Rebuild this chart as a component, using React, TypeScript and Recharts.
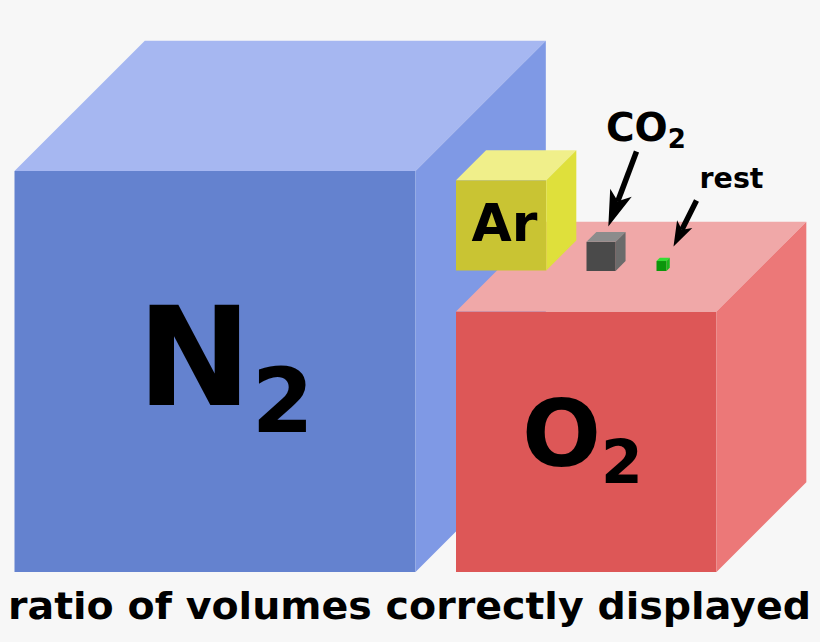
import { ScatterChart, Scatter, XAxis, YAxis } from 'recharts'

// gas formulas (base + subscript) and share of the air by volume, in percent (as drawn)
const gases = ['N', 'O', 'Ar', 'CO', 'rest']
const subscripts = ['2', '2', '', '2', '']
const volumePercent = [78.08, 21.4, 0.89, 0.03, 0.0012]

const caption = 'ratio of volumes correctly displayed'

const W = 820
const H = 642
const FONT = '"DejaVu Sans", Verdana, sans-serif'

// layout: front bottom-left corner of every cube (chart units, y measured up from the bottom)
const anchorX = [14.5, 456, 456, 586.5, 656.5]
const anchorY = [70, 70, 371.5, 371, 371]
const depthRatio = [0.325, 0.345, 0.333, 0.34, 0.33]

// edge length of the biggest cube; the others follow from the cube root of the volume
const N2_SIDE = 401
const UNIT = N2_SIDE / Math.cbrt(volumePercent[0])

const palette = [
  { front: '#6482cf', top: '#a6b7f1', side: '#7f99e5' },
  { front: '#dd5757', top: '#f0a8a8', side: '#ec7878' },
  { front: '#c9c433', top: '#f0ef8a', side: '#dfe03b' },
  { front: '#4a4a4a', top: '#8c8c8c', side: '#6b6b6b' },
  { front: '#0b960b', top: '#33dd33', side: '#1cb81c' },
]

// label placement relative to the cube anchor, in px
const labelStyle = [
  { size: 137, subSize: 89, dx: 122.5, dy: -167, subDy: 27 },
  { size: 93, subSize: 60, dx: 66, dy: -106, subDy: 17 },
  { size: 52, subSize: 0, dx: 15.5, dy: -29.5, subDy: 0 },
  { size: 39, subSize: 26, dx: 19.5, dy: -130, subDy: 7 },
  { size: 28.5, subSize: 0, dx: 43, dy: -82.7, subDy: 0 },
]

// arrows from the small labels down to their cubes: [startX, startY, tipX, tipY, headLen, headHalf]
const arrows: (number[] | null)[] = [
  null,
  null,
  null,
  [50, -119.5, 21.8, -44.5, 36, 11.5],
  [40, -70.5, 17, -24.5, 25, 8.5],
]

const data = gases.map((g, i) => ({
  name: g + subscripts[i],
  x: anchorX[i],
  y: anchorY[i],
  side: UNIT * Math.cbrt(volumePercent[i]),
  idx: i,
}))

function Arrow({ x0, y0, x1, y1, len, half }: any) {
  const dx = x1 - x0
  const dy = y1 - y0
  const l = Math.hypot(dx, dy)
  const ux = dx / l
  const uy = dy / l
  const bx = x1 - ux * len
  const by = y1 - uy * len
  const nx = bx + ux * len * 0.25
  const ny = by + uy * len * 0.25
  const w1 = [bx - uy * half, by + ux * half]
  const w2 = [bx + uy * half, by - ux * half]
  return (
    <g>
      <line x1={x0} y1={y0} x2={nx} y2={ny} stroke="#000" strokeWidth={5.5} />
      <polygon points={`${x1},${y1} ${w1[0]},${w1[1]} ${nx},${ny} ${w2[0]},${w2[1]}`} fill="#000" />
    </g>
  )
}

function Cube(props: any) {
  const { cx, cy, payload } = props
  const i = payload.idx
  const s = payload.side
  const d = s * depthRatio[i]
  const c = palette[i]
  const lab = labelStyle[i]
  const arr = arrows[i]
  const top = `${cx},${cy - s} ${cx + d},${cy - s - d} ${cx + s + d},${cy - s - d} ${cx + s},${cy - s}`
  const side = `${cx + s},${cy - s} ${cx + s + d},${cy - s - d} ${cx + s + d},${cy - d} ${cx + s},${cy}`
  return (
    <g>
      <rect x={cx} y={cy - s} width={s} height={s} fill={c.front} />
      <polygon points={top} fill={c.top} />
      <polygon points={side} fill={c.side} />
      <text x={cx + lab.dx} y={cy + lab.dy} fontFamily={FONT} fontWeight="bold" fontSize={lab.size} fill="#000">
        {gases[i]}
        {subscripts[i] && (
          <tspan dy={lab.subDy} fontSize={lab.subSize}>
            {subscripts[i]}
          </tspan>
        )}
      </text>
      {arr && (
        <Arrow x0={cx + arr[0]} y0={cy + arr[1]} x1={cx + arr[2]} y1={cy + arr[3]} len={arr[4]} half={arr[5]} />
      )}
    </g>
  )
}

export default function App() {
  return (
    <div style={{ position: 'absolute', left: 0, top: 0, width: W, height: H, background: '#f7f7f7' }}>
      <ScatterChart width={W} height={H} margin={{ top: 0, right: 0, bottom: 0, left: 0 }}>
        <XAxis type="number" dataKey="x" domain={[0, W]} hide />
        <YAxis type="number" dataKey="y" domain={[0, H]} hide />
        <Scatter data={data} shape={(p: any) => <Cube {...p} />} isAnimationActive={false} />
      </ScatterChart>
      <svg width={W} height={H} style={{ position: 'absolute', left: 0, top: 0, pointerEvents: 'none' }}>
        <text
          x={8}
          y={619}
          fontFamily={FONT}
          fontWeight="bold"
          fontSize={38}
          textLength={803}
          lengthAdjust="spacingAndGlyphs"
          fill="#000"
        >
          {caption}
        </text>
      </svg>
    </div>
  )
}
